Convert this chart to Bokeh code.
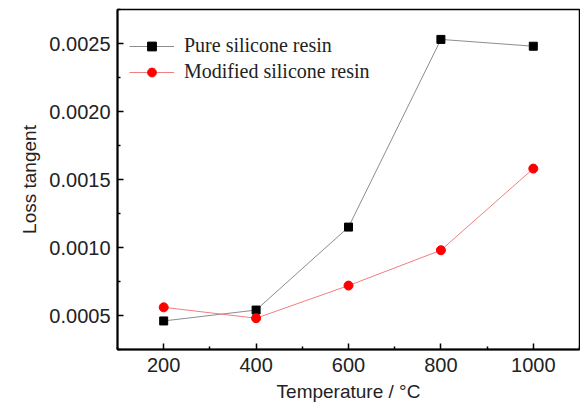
from bokeh.plotting import figure
from bokeh.models import FixedTicker, NumeralTickFormatter, Range1d, Legend, LegendItem
from bokeh.embed import file_html
from bokeh.resources import INLINE

temperature = [200, 400, 600, 800, 1000]
pure_resin = [0.00046, 0.00054, 0.00115, 0.00253, 0.00248]
modified_resin = [0.00056, 0.00048, 0.00072, 0.00098, 0.00158]
x_ticks = [200, 400, 600, 800, 1000]
x_minor = [100, 300, 500, 700, 900, 1100]
y_ticks = [0.0005, 0.0010, 0.0015, 0.0020, 0.0025]
y_minor = [0.00025, 0.00075, 0.00125, 0.00175, 0.00225, 0.00275]

p = figure(width=580, height=408, output_backend="svg", toolbar_location=None,
           x_range=Range1d(100, 1100), y_range=Range1d(0.00025, 0.00275),
           min_border_left=117, min_border_right=1, min_border_top=9, min_border_bottom=59)
p.background_fill_color = "white"
p.border_fill_color = "white"
p.grid.visible = False
p.outline_line_color = "black"
p.outline_line_width = 1.5

p.xaxis.ticker = FixedTicker(ticks=x_ticks, minor_ticks=x_minor)
p.yaxis.ticker = FixedTicker(ticks=y_ticks, minor_ticks=y_minor)
p.yaxis.formatter = NumeralTickFormatter(format="0.0000")
for ax in (p.xaxis[0], p.yaxis[0]):
    ax.axis_line_width = 2
    ax.axis_line_color = "black"
    ax.major_tick_in = 6
    ax.major_tick_out = 0
    ax.minor_tick_in = 3
    ax.minor_tick_out = 0
    ax.major_tick_line_width = 1.5
    ax.minor_tick_line_width = 1.5
    ax.major_label_text_font = "Liberation Sans"
    ax.major_label_text_font_size = "20px"
    ax.major_label_text_color = "#222222"
    ax.axis_label_text_font = "Liberation Sans"
    ax.axis_label_text_font_size = "19px"
    ax.axis_label_text_font_style = "normal"
    ax.axis_label_text_color = "#222222"
p.xaxis.major_label_standoff = 8
p.yaxis.major_label_standoff = 7
p.xaxis.axis_label = "Temperature / °C"
p.yaxis.axis_label = "Loss tangent"
p.xaxis.axis_label_standoff = 6
p.yaxis.axis_label_standoff = 6

l1 = p.line(temperature, pure_resin, line_color="#8c8c8c", line_width=1)
m1 = p.scatter(temperature, pure_resin, marker="square", size=8, fill_color="black", line_color="black")
l2 = p.line(temperature, modified_resin, line_color="#f07f7f", line_width=1)
m2 = p.scatter(temperature, modified_resin, marker="circle", size=9, fill_color="red", line_color="red")

legend = Legend(items=[LegendItem(label="Pure silicone resin", renderers=[l1, m1]),
                       LegendItem(label="Modified silicone resin", renderers=[l2, m2])],
                location=(12, 266))
legend.border_line_color = None
legend.background_fill_alpha = 0
legend.label_text_font = "Liberation Serif"
legend.label_text_font_size = "20px"
legend.label_text_color = "#222222"
legend.glyph_width = 45
legend.glyph_height = 22
legend.label_height = 22
legend.spacing = 3
legend.padding = 8
legend.label_standoff = 10
legend.margin = 0
p.add_layout(legend)

open("out.html", "w").write(file_html(p, INLINE))
